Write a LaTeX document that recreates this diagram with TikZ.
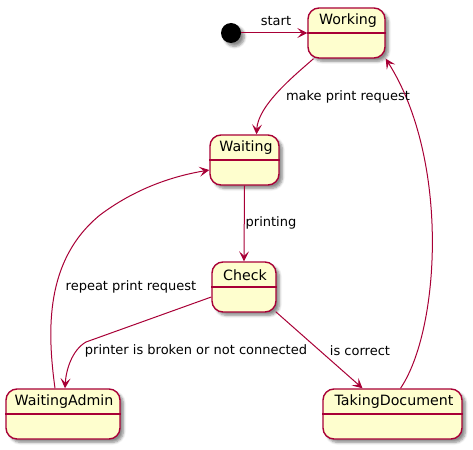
\documentclass[tikz,border=0pt]{standalone}
\usepackage{fontspec}
\setmainfont{DejaVu Sans}
\usetikzlibrary{arrows.meta,shadows.blur}
\definecolor{pumlred}{HTML}{A80036}
\definecolor{pumlfill}{HTML}{FEFECE}
\begin{document}
\begin{tikzpicture}[x=1pt,y=-1pt,
  shadowed/.style={blur shadow={shadow xshift=3.5pt,shadow yshift=-3.5pt,shadow blur steps=6,shadow opacity=45,shadow blur radius=2.5pt}},
  statebox/.style={draw=pumlred,fill=pumlfill,line width=1.4pt,rounded corners=11pt,minimum height=50pt,inner sep=0pt,shadowed},
  title/.style={font=\fontsize{14.2}{16}\selectfont,inner sep=0pt},
  lbl/.style={font=\fontsize{13}{15}\selectfont,inner sep=0pt},
  arr/.style={draw=pumlred,line width=1pt,-{Stealth[length=10pt,width=10pt,inset=4.5pt]}},
  divider/.style={draw=pumlred,line width=1.4pt}]
\useasboundingbox (0,0) rectangle (473,449);
% states
\node[circle,fill=black,minimum size=20pt,inner sep=0pt,shadowed] (init) at (231,33) {};
\node[statebox,minimum width=77pt] (work) at (346.5,33) {};
\node[statebox,minimum width=69pt] (wait) at (244.5,160) {};
\node[statebox,minimum width=64pt] (check) at (244,287) {};
\node[statebox,minimum width=114pt] (admin) at (63,414) {};
\node[statebox,minimum width=139pt] (take) at (392.5,414) {};
\foreach \n in {work,wait,check,admin,take} \draw[divider] (\n.west) -- (\n.east);
\node[title] (tw) at (348,21) {Working};
\node[title] (tv) at (246,148) {Waiting};
\node[title] (tc) at (245,275) {Check};
\node[title] (ta) at (64,402) {WaitingAdmin};
\node[title] (tt) at (394,402) {TakingDocument};
% transitions
\draw[arr] (init) -- (work.west);
\draw[arr] ([xshift=-33pt]work.south) .. controls (295,75) and (258,105) .. ([xshift=12pt]wait.north);
\draw[arr] (wait.south) -- (check.north);
\draw[arr] ([yshift=-10pt]check.west) -- (86,342) .. controls (72,350) and (66,370) .. ([xshift=2pt]admin.north);
\draw[arr] ([xshift=-1pt,yshift=1pt]check.south east) -- ([xshift=-30pt]take.north);
\draw[arr] ([xshift=-8pt]admin.north) .. controls (47,330) and (45,260) .. (100,215) .. controls (140,185) and (180,175) .. ([yshift=-10pt]wait.west);
\draw[arr] ([xshift=8pt]take.north) .. controls (440,330) and (450,160) .. (work.south east);
% labels
\node[lbl] (l1) at (276,21) {start};
\node[lbl] (l2) at (348,97) {make print request};
\node[lbl] (l3) at (271,223) {printing};
\node[lbl] (l4) at (131,287) {repeat print request};
\node[lbl] (l5) at (196,351) {printer is broken or not connected};
\node[lbl] (l6) at (360,351) {is correct};
\end{tikzpicture}
\end{document}
